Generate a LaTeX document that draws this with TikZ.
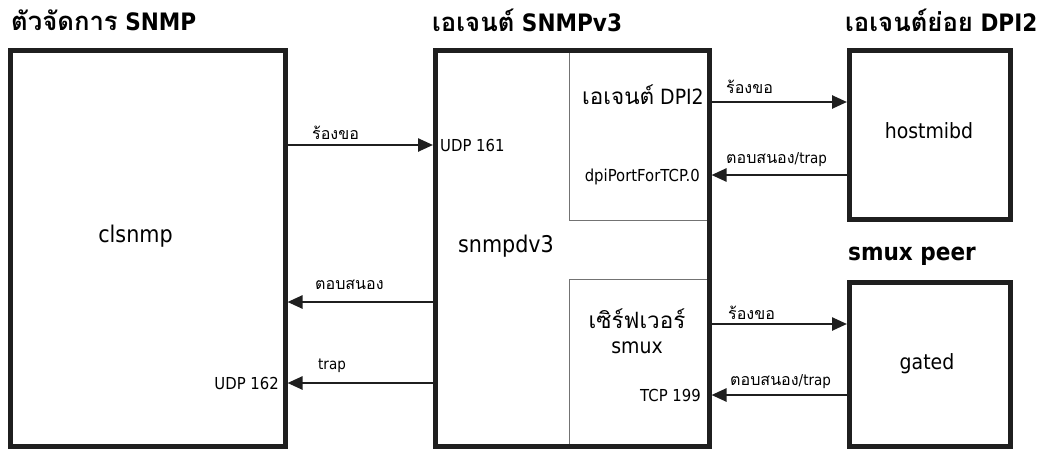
\documentclass[tikz,border=0pt]{standalone}
\usepackage{fontspec}
\setmainfont{DejaVu Sans}[FakeStretch=0.9]
\newfontfamily\thai[Script=Thai,Scale=1.07]{Loma}
\usetikzlibrary{arrows.meta}

\tikzset{
  box/.style={draw=black!88, line width=5pt, inner sep=0pt},
  part/.style={draw=black!55, line width=0.8pt},
  arr/.style={draw=black!88, line width=2.5pt, -{Triangle[length=15pt,width=13pt]}},
  title/.style={anchor=west, inner sep=0pt, font=\fontsize{24}{28}\selectfont\bfseries},
  lbl/.style={anchor=west, inner sep=0pt, font=\fontsize{15}{17}\selectfont},
  port/.style={inner sep=0pt, font=\fontsize{16.5}{19}\selectfont},
  prog/.style={inner sep=0pt, font=\fontsize{23}{26}\selectfont},
  sub/.style={inner sep=0pt, font=\fontsize{21}{25}\selectfont},
}

\begin{document}
\begin{tikzpicture}[x=1pt,y=-1pt]
\useasboundingbox (0,0) rectangle (1053,450);

% headings
\node[title] (tmgr) at (11,20) {{\thai ตัวจัดการ} SNMP};
\node[title] (tagt) at (432,20) {{\thai เอเจนต์} SNMPv3};
\node[title] (tsub) at (845,20) {{\thai เอเจนต์ย่อย} DPI2};
\node[title] (tpeer) at (848,256) {smux peer};

% sub-parts inside the agent
\coordinate (dpiA) at (569,50.5);
\coordinate (dpiB) at (569,220.5);
\coordinate (dpiC) at (709,220.5);
\draw[part] (dpiA) -- (dpiB) -- (dpiC);
\coordinate (smxA) at (569,446);
\coordinate (smxB) at (569,279.5);
\coordinate (smxC) at (709,279.5);
\draw[part] (smxA) -- (smxB) -- (smxC);

% main boxes
\node[box, minimum width=274.5pt, minimum height=395.5pt] (mgr) at (147.75,248.25) {};
\node[box, minimum width=273.5pt, minimum height=395.5pt] (agent) at (572.25,248.25) {};
\node[box, minimum width=161pt, minimum height=169pt] (host) at (930,135) {};
\node[box, minimum width=161pt, minimum height=164pt] (gated) at (930,364) {};

% box texts
\node[prog] (clsnmp) at (135.5,236) {clsnmp};
\node[prog] (snmpd) at (506,246) {snmpdv3};
\node[sub] (hostmibd) at (929,131) {hostmibd};
\node[sub] (gatedt) at (927,364) {gated};
\node[sub] (dpiname) at (643,95) {{\thai เอเจนต์} DPI2};
\node[sub, align=center] (smuxname) at (637,331) {{\thai เซิร์ฟเวอร์}\\smux};

% ports
\node[port, anchor=west] (udp161) at (440,145) {UDP 161};
\node[port, anchor=east] (udp162) at (279,383) {UDP 162};
\node[port, anchor=east] (dpiport) at (700,177) {dpiPortForTCP.0};
\node[port, anchor=east] (tcp199) at (701,395) {TCP 199};

% manager <-> agent
\draw[arr] (mgr.east |- 0,145) -- (agent.west |- 0,145);
\draw[arr] (agent.west |- 0,302) -- (mgr.east |- 0,302);
\draw[arr] (agent.west |- 0,383) -- (mgr.east |- 0,383);
\node[lbl] (l1) at (312,133) {\thai ร้องขอ};
\node[lbl] (l2) at (315,285) {\thai ตอบสนอง};
\node[lbl] (l3) at (318,366) {trap};

% agent <-> subagent / peer
\draw[arr] (agent.east |- 0,102) -- (host.west |- 0,102);
\draw[arr] (host.west |- 0,175) -- (agent.east |- 0,175);
\draw[arr] (agent.east |- 0,324) -- (gated.west |- 0,324);
\draw[arr] (gated.west |- 0,395) -- (agent.east |- 0,395);
\node[lbl] (l4) at (726,87) {\thai ร้องขอ};
\node[lbl] (l5) at (726,160) {{\thai ตอบสนอง}/trap};
\node[lbl] (l6) at (728,313) {\thai ร้องขอ};
\node[lbl] (l7) at (730,382) {{\thai ตอบสนอง}/trap};
\end{tikzpicture}
\end{document}
